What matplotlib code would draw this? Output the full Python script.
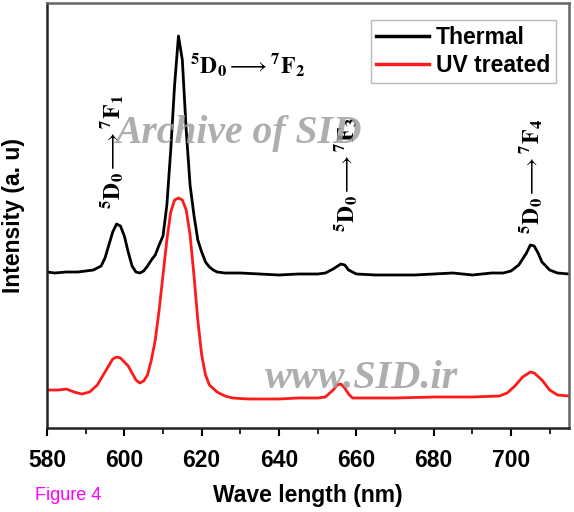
import matplotlib
matplotlib.use('Agg')
import matplotlib.pyplot as plt

plt.rcParams['font.family'] = 'Liberation Sans'
plt.rcParams['mathtext.fontset'] = 'stix'

# Thermal sample (offset spectrum, arbitrary units)
wl_thermal = [580, 582, 585, 588, 590, 592, 594, 595, 596, 597, 598, 599, 600, 601, 602,
              603, 604, 605, 606, 607, 608, 609, 610, 611, 612, 613, 614, 615, 616, 617,
              618, 619, 620, 621, 622, 623, 624, 626, 630, 635, 640, 645, 650, 652, 654,
              656, 657, 658, 660, 665, 670, 675, 680, 685, 690, 695, 698, 700, 702, 704,
              705, 706, 707, 708, 710, 712, 715]
int_thermal = [156, 155, 156, 156, 157, 158, 162, 170, 183, 196, 204, 202, 192, 176, 162,
               156, 155, 157, 162, 168, 173, 183, 192, 223, 278, 343, 392, 368, 298, 243,
               213, 188, 176, 166, 161, 158, 156, 155, 155, 154, 153, 154, 154, 155, 159,
               164, 163, 158, 154, 153, 153, 153, 154, 155, 153, 155, 155, 157, 163, 175,
               183, 182, 175, 166, 158, 155, 154]

# UV treated sample
wl_uv = [580, 583, 585, 587, 589, 591, 593, 595, 597, 598, 599, 601, 603, 604, 605,
         606, 607, 608, 609, 610, 611, 612, 613, 614, 615, 616, 617, 618, 619, 620,
         621, 622, 624, 626, 628, 632, 640, 645, 650, 652, 654, 655, 656, 657, 658,
         659, 662, 670, 680, 690, 697, 699, 701, 703, 705, 706, 708, 710, 712, 715]
int_uv = [38, 38, 39, 36, 34, 36, 43, 56, 69, 71, 70, 62, 48, 45, 47,
          53, 68, 88, 118, 153, 188, 216, 228, 230, 228, 218, 193, 153, 108, 73,
          53, 43, 36, 32, 30, 29, 29, 30, 30, 31, 38, 43, 44, 40, 34,
          30, 30, 30, 31, 31, 32, 35, 42, 51, 56, 55, 48, 38, 33, 32]

labels = ['Thermal', 'UV treated']
colors = ['black', '#ff1a1a']

fig = plt.figure(figsize=(5.74, 5.12), dpi=100)
ax = fig.add_axes([47/574, 84/512, 522/574, 425/512])

ax.plot(wl_thermal, int_thermal, color=colors[0], lw=2.0, label=labels[0])
ax.plot(wl_uv, int_uv, color=colors[1], lw=2.0, label=labels[1])

ax.set_xlim(580, 715)
ax.set_ylim(0, 425)
ax.set_xticks([580, 600, 620, 640, 660, 680, 700])
ax.set_xticks(range(590, 715, 20), minor=True)
ax.set_yticks([])
ax.tick_params(axis='x', which='major', length=6, width=1.5, labelsize=16.5, pad=9)
ax.tick_params(axis='x', which='minor', length=4, width=1.2)
for t in ax.get_xticklabels():
    t.set_fontweight('bold')
for s in ['left', 'bottom']:
    ax.spines[s].set_linewidth(1.8)
    ax.spines[s].set_color('#222222')
for s in ['top', 'right']:
    ax.spines[s].set_linewidth(1.8)
    ax.spines[s].set_color('#666666')

ax.set_xlabel('Wave length (nm)', fontsize=16.5, fontweight='bold', labelpad=9)
ax.set_ylabel('Intensity (a. u)', fontsize=16.5, fontweight='bold', labelpad=16)

leg = ax.legend(loc='upper right', bbox_to_anchor=(0.975, 0.96), borderaxespad=0,
                prop={'size': 16.5, 'weight': 'bold'}, frameon=True, fancybox=False,
                handlelength=2.3, handletextpad=0.3, borderpad=0.25, labelspacing=0.25)
leg.get_frame().set_edgecolor('#aaaaaa')
leg.get_frame().set_linewidth(1.0)
for line in leg.get_lines():
    line.set_linewidth(2.5)

def trans(n):
    return (r'$^{\mathbf{5}}\mathbf{D}_{\mathbf{0}}\longrightarrow{}^{\mathbf{7}}\mathbf{F}_{\mathbf{%d}}$' % n)

ax.text(616.9, 363, trans(2), fontsize=17, ha='left', va='center')
ax.text(596.8, 276, trans(1), fontsize=17, ha='center', va='center', rotation=90)
ax.text(657.4, 253, trans(3), fontsize=17, ha='center', va='center', rotation=90)
ax.text(705.2, 252, trans(4), fontsize=17, ha='center', va='center', rotation=90)

# watermarks
ax.text(597.5, 295, 'Archive of SID', family='Liberation Serif', style='italic',
        fontweight='bold', fontsize=28.5, color='#a0a0a0', alpha=0.85, ha='left', va='center')
ax.text(636.3, 50, 'www.SID.ir', family='Liberation Serif', style='italic',
        fontweight='bold', fontsize=29, color='#a0a0a0', alpha=0.85, ha='left', va='center')

fig.text(35/574, 1 - 495/512, 'Figure 4', color='#ff00ff', fontsize=13, ha='left', va='center')

fig.savefig('out.png', dpi=100)
